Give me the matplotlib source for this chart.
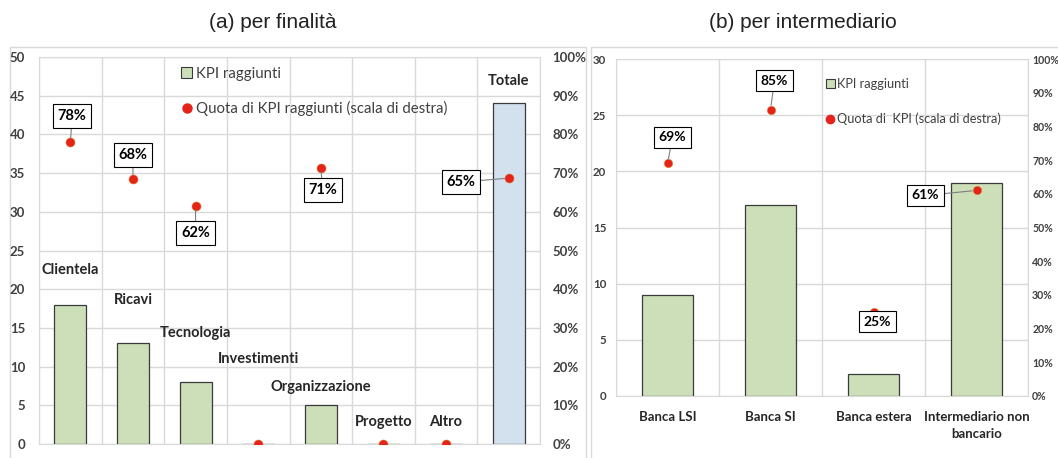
import matplotlib
matplotlib.use("Agg")
import matplotlib.pyplot as plt
from matplotlib.ticker import PercentFormatter, MultipleLocator, FixedLocator
from matplotlib.patches import Rectangle
from matplotlib.lines import Line2D
import numpy as np

plt.rcParams['font.family'] = ['Lato', 'DejaVu Sans']

# ---- data: panel (a) ----
cat_a = ["Clientela", "Ricavi", "Tecnologia", "Investimenti", "Organizzazione",
         "Progetto", "Altro", "Totale"]
kpi_a = [18, 13, 8, 0, 5, 0, 0, 44]
share_a = [0.78, 0.685, 0.615, 0.0, 0.713, 0.0, 0.0, 0.687]
share_lab_a = ["78%", "68%", "62%", None, "71%", None, None, "65%"]

# ---- data: panel (b) ----
cat_b = ["Banca LSI", "Banca SI", "Banca estera", "Intermediario non\nbancario"]
kpi_b = [9, 17, 2, 19]
share_b = [0.69, 0.85, 0.25, 0.61]
share_lab_b = ["69%", "85%", "25%", "61%"]

# ---- layout / style ----
GREEN = "#CCDFB9"
BLUE = "#D3E1EE"
RED = "#E5231B"
GRID = "#D9D9D9"
TXT = "#404040"

cat_label_y = [22.5, 18.6, 14.3, 11.0, 7.4, 2.8, 2.8, 46.9]
off_a = [(2, 26), (0, 24), (0, -27), None, (2, -22), None, None, (-48, -4)]
off_b = [(5, 26), (4, 29), (4, -10), (-51, -5)]

W, H = 1058, 458
fig = plt.figure(figsize=(W / 100, H / 100), dpi=100)

def fx(x):
    return x / W

def fy(y):
    return 1 - y / H

# outer frames
fig.add_artist(Rectangle((fx(10), fy(470)), fx(586 - 10), fy(47) - fy(470),
                         fill=False, edgecolor=GRID, lw=1.0, transform=fig.transFigure,
                         zorder=0))
fig.add_artist(Rectangle((fx(591), fy(470)), fx(1070 - 591), fy(47) - fy(470),
                         fill=False, edgecolor=GRID, lw=1.0, transform=fig.transFigure,
                         zorder=0))

fig.text(fx(273), fy(22), "(a) per finalità", ha="center", va="center",
         fontsize=15, family="Liberation Sans", color="#222222")
fig.text(fx(803), fy(22), "(b) per intermediario", ha="center", va="center",
         fontsize=15, family="Liberation Sans", color="#222222")


def style_axes(ax, ax2, n, ymax, ystep, fs, padl, padr, fsr=None):
    ax.set_xlim(-0.5, n - 0.5)
    ax.set_ylim(0, ymax)
    ax.yaxis.set_major_locator(MultipleLocator(ystep))
    ax.xaxis.set_minor_locator(FixedLocator(np.arange(-0.5, n, 1.0)))
    ax.grid(True, which="minor", axis="x", color=GRID, lw=1.0)
    ax.grid(True, which="major", axis="y", color=GRID, lw=1.0)
    ax.set_axisbelow(True)
    for s in ax.spines.values():
        s.set_color(GRID)
    for s in ax2.spines.values():
        s.set_visible(False)
    ax.tick_params(axis="y", length=0, pad=padl, labelsize=fs, labelcolor=TXT)
    ax.tick_params(axis="x", which="both", length=0)
    ax2.set_ylim(0, 1)
    ax2.yaxis.set_major_locator(MultipleLocator(0.1))
    ax2.yaxis.set_major_formatter(PercentFormatter(1.0, decimals=0))
    ax2.tick_params(axis="y", length=0, pad=padr, labelsize=fsr or fs, labelcolor=TXT)
    for lab in ax.get_yticklabels() + ax2.get_yticklabels():
        lab.set_fontweight("bold")


def annotate(ax2, xs, vals, labels, offs, fs):
    for x, v, lab, off in zip(xs, vals, labels, offs):
        if lab is None:
            continue
        ax2.annotate(lab, xy=(x, v), xytext=off, textcoords="offset pixels",
                     ha="center", va="center", fontsize=fs, fontweight="bold",
                     color="black",
                     bbox=dict(boxstyle="square,pad=0.32", fc="white", ec="black", lw=0.8),
                     arrowprops=dict(arrowstyle="-", color="#7F7F7F", lw=0.8,
                                     shrinkA=0, shrinkB=3))


# ---------- panel (a) ----------
axA = fig.add_axes([fx(39), fy(444), fx(540 - 39), fy(57) - fy(444)])
axA2 = axA.twinx()
xa = np.arange(len(cat_a))
colors_a = [GREEN] * (len(cat_a) - 1) + [BLUE]
axA.bar(xa, kpi_a, width=0.51, color=colors_a, edgecolor="#3A3A3A", lw=0.9,
        label="KPI raggiunti")
axA.set_xticks([])
style_axes(axA, axA2, len(cat_a), 50, 5, 9.5, 10, 9)
for x, c, y in zip(xa, cat_a, cat_label_y):
    axA.text(x, y, c, ha="center", va="center", fontsize=10.5, fontweight="bold",
             color="#262626")
axA2.plot(xa, share_a, "o", color=RED, ms=6.5, mec="#D9822B", mew=0.4,
          label="Quota di KPI raggiunti (scala di destra)")
annotate(axA2, xa, share_a, share_lab_a, off_a, 10.5)
hA1 = Rectangle((0, 0), 1, 1, fc=GREEN, ec="#3A3A3A", lw=0.8)
hA2 = Line2D([], [], ls="none", marker="o", color=RED, ms=6.5)
axA2.legend([hA1, hA2], ["KPI raggiunti", "Quota di KPI raggiunti (scala di destra)"],
            loc="upper left", bbox_to_anchor=(0.272, 0.99), frameon=False,
            fontsize=10.8, handlelength=0.7, handleheight=0.7, handletextpad=0.3,
            labelspacing=1.35, labelcolor="#404040", borderaxespad=0)

# ---------- panel (b) ----------
axB = fig.add_axes([fx(616), fy(396), fx(1028 - 616), fy(59) - fy(396)])
axB2 = axB.twinx()
xb = np.arange(len(cat_b))
axB.bar(xb, kpi_b, width=0.5, color=GREEN, edgecolor="#3A3A3A", lw=0.9)
axB.set_xticks(xb)
axB.set_xticklabels(cat_b, fontsize=9.5, color="#262626", fontweight="bold",
                    linespacing=1.5)
style_axes(axB, axB2, len(cat_b), 30, 5, 8.3, 7, 3, fsr=7.6)
axB.tick_params(axis="x", pad=11)
axB2.plot(xb, share_b, "o", color=RED, ms=6, mec="#D9822B", mew=0.4)
annotate(axB2, xb, share_b, share_lab_b, off_b, 10)
hB1 = Rectangle((0, 0), 1, 1, fc=GREEN, ec="#3A3A3A", lw=0.8)
hB2 = Line2D([], [], ls="none", marker="o", color=RED, ms=6)
axB2.legend([hB1, hB2], ["KPI raggiunti", "Quota di  KPI (scala di destra)"],
            loc="upper left", bbox_to_anchor=(0.497, 0.96), frameon=False,
            fontsize=9.2, handlelength=0.7, handleheight=0.7, handletextpad=0.15,
            labelspacing=1.8, labelcolor="#404040", borderaxespad=0)

fig.savefig("out.png", dpi=100)
